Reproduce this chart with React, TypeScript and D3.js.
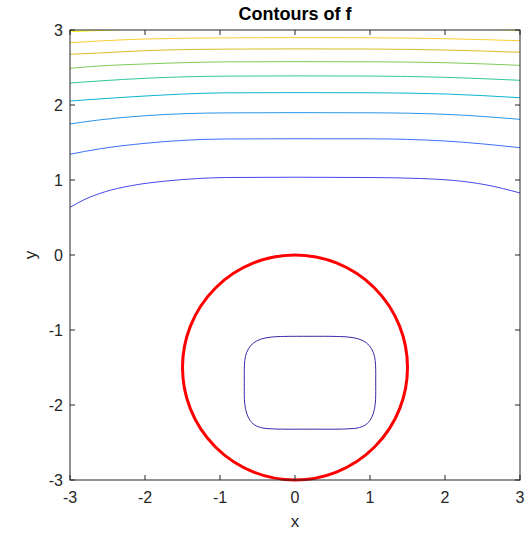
import * as d3 from "d3";

// contour levels, lowest first (parula colours)
const levelColors = [
  "#3e26a8", "#4747eb", "#3e6fff", "#2796eb", "#08b5d0",
  "#31c69f", "#80cc59", "#dcbd29", "#fccf30", "#f9fa0e",
];

// closed contour inside the circle
const innerLoop: [number, number][] = [
  [0.2, -1.084], [0.55, -1.086], [0.72, -1.095], [0.85, -1.12], [0.95, -1.17],
  [1.02, -1.25], [1.06, -1.35], [1.074, -1.47], [1.076, -1.7], [1.074, -1.93], [1.06, -2.05],
  [1.025, -2.16], [0.96, -2.25], [0.86, -2.3], [0.7, -2.318], [0.2, -2.322],
  [-0.3, -2.318], [-0.46, -2.3], [-0.56, -2.25], [-0.625, -2.16], [-0.66, -2.05],
  [-0.674, -1.93], [-0.676, -1.7], [-0.674, -1.47], [-0.66, -1.35], [-0.62, -1.25],
  [-0.55, -1.17], [-0.45, -1.12], [-0.32, -1.095], [-0.15, -1.086],
];

// open contours crossing the top of the plot
const contour1: [number, number][] = [
  [-3, 0.636], [-2.8, 0.743], [-2.53, 0.844], [-2.18, 0.925], [-1.73, 0.985],
  [-1.29, 1.02], [-0.93, 1.033], [0, 1.037], [1.0, 1.033], [1.67, 1.02],
  [2.11, 0.995], [2.56, 0.933], [3, 0.827],
];
const contour2: [number, number][] = [
  [-3, 1.343], [-2.62, 1.413], [-2, 1.489], [-0.93, 1.547], [0, 1.55], [1, 1.549], [2, 1.52], [3, 1.431],
];
const contour3: [number, number][] = [
  [-3, 1.747], [-2.62, 1.8], [-2, 1.857], [-0.93, 1.895], [0, 1.898], [1, 1.896], [2, 1.876], [3, 1.809],
];
const contour4: [number, number][] = [
  [-3, 2.053], [-2.62, 2.08], [-2, 2.12], [-0.93, 2.162], [0, 2.165], [1, 2.163], [2, 2.147], [3, 2.097],
];
const contour5: [number, number][] = [
  [-3, 2.293], [-2.62, 2.32], [-2, 2.356], [-0.93, 2.385], [0, 2.388], [1, 2.386], [2, 2.369], [3, 2.329],
];
const contour6: [number, number][] = [
  [-3, 2.489], [-2.62, 2.52], [-2, 2.547], [-0.93, 2.575], [0, 2.578], [1, 2.576], [2, 2.564], [3, 2.529],
];
const contour7: [number, number][] = [
  [-3, 2.676], [-2.62, 2.693], [-2, 2.724], [-0.93, 2.745], [0, 2.748], [1, 2.746], [2, 2.733], [3, 2.703],
];
const contour8: [number, number][] = [
  [-3, 2.831], [-2.62, 2.853], [-2, 2.88], [-0.93, 2.895], [0, 2.898], [1, 2.896], [2, 2.884], [3, 2.857],
];
const contour9: [number, number][] = [
  [-3, 2.977], [-2.7, 2.99], [-2.44, 3.0], [-2, 3.015], [0, 3.03], [2, 3.02], [2.84, 3.0], [3, 2.997],
];
const openContours = [contour1, contour2, contour3, contour4, contour5, contour6, contour7, contour8, contour9];

// constraint circle
const circleCenter: [number, number] = [0, -1.5];
const circleRadius = 1.5;

const xTicks = [-3, -2, -1, 0, 1, 2, 3];
const yTicks = [-3, -2, -1, 0, 1, 2, 3];

const W = 530;
const H = 533;
const margin = { top: 30, right: 10, bottom: 53, left: 70 };
const font = "'Liberation Sans', Arial, Helvetica, sans-serif";
const axisColor = "#262626";

export default function App() {
  const x = d3.scaleLinear().domain([-3, 3]).range([margin.left, W - margin.right]);
  const y = d3.scaleLinear().domain([-3, 3]).range([H - margin.bottom, margin.top]);

  const line = d3
    .line<[number, number]>()
    .x((d) => x(d[0]))
    .y((d) => y(d[1]))
    .curve(d3.curveMonotoneX);

  const loop = d3
    .line<[number, number]>()
    .x((d) => x(d[0]))
    .y((d) => y(d[1]))
    .curve(d3.curveCatmullRomClosed);

  const x0 = x(-3), x1 = x(3), y0 = y(-3), y1 = y(3);
  const tick = 5;

  return (
    <svg width={W} height={H} style={{ position: "absolute", left: 0, top: 0, background: "#fff" }}>
      <defs>
        <clipPath id="plot">
          <rect x={x0} y={y1} width={x1 - x0} height={y0 - y1} />
        </clipPath>
      </defs>
      <rect x={0} y={0} width={W} height={H} fill="#fff" />

      <g clipPath="url(#plot)" fill="none" strokeWidth={1}>
        <path d={loop(innerLoop) || ""} stroke={levelColors[0]} />
        {openContours.map((c, i) => (
          <path key={i} d={line(c) || ""} stroke={levelColors[i + 1]} />
        ))}
      </g>

      <circle
        cx={x(circleCenter[0])}
        cy={y(circleCenter[1])}
        r={x(circleRadius) - x(0)}
        fill="none"
        stroke="#ff0000"
        strokeWidth={3}
      />

      {/* box and ticks */}
      <rect x={x0} y={y1} width={x1 - x0} height={y0 - y1} fill="none" stroke={axisColor} strokeWidth={1} />
      {xTicks.map((t) => (
        <g key={"x" + t} stroke={axisColor}>
          <line x1={x(t)} x2={x(t)} y1={y0} y2={y0 - tick} />
          <line x1={x(t)} x2={x(t)} y1={y1} y2={y1 + tick} />
        </g>
      ))}
      {yTicks.map((t) => (
        <g key={"y" + t} stroke={axisColor}>
          <line x1={x0} x2={x0 + tick} y1={y(t)} y2={y(t)} />
          <line x1={x1} x2={x1 - tick} y1={y(t)} y2={y(t)} />
        </g>
      ))}

      <g fontFamily={font} fontSize={16} fill={axisColor}>
        {xTicks.map((t) => (
          <text key={"xl" + t} x={x(t)} y={y0 + 23} textAnchor="middle">
            {t}
          </text>
        ))}
        {yTicks.map((t) => (
          <text key={"yl" + t} x={x0 - 7} y={y(t)} textAnchor="end" dominantBaseline="central">
            {t}
          </text>
        ))}
        <text x={(x0 + x1) / 2} y={H - 6} textAnchor="middle" fontSize={17}>
          x
        </text>
        <text
          transform={`translate(36,${(y0 + y1) / 2}) rotate(-90)`}
          textAnchor="middle"
          fontSize={17}
        >
          y
        </text>
      </g>

      <text
        x={(x0 + x1) / 2}
        y={20}
        textAnchor="middle"
        fontFamily={font}
        fontSize={18}
        fontWeight="bold"
        fill="#000"
      >
        Contours of f
      </text>
    </svg>
  );
}
